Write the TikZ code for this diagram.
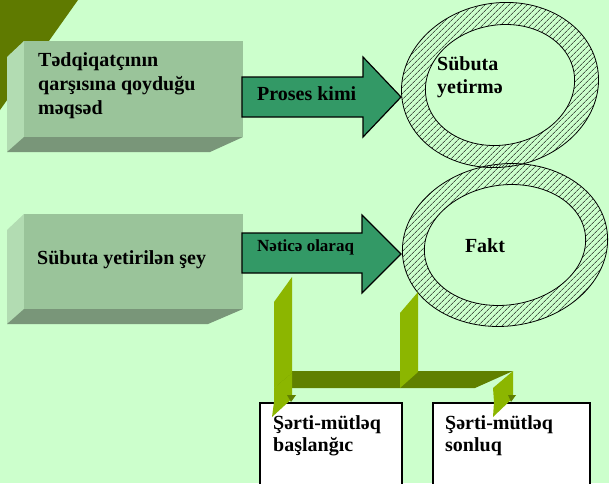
\documentclass[tikz,border=0pt]{standalone}
\usepackage{fontspec}
\setmainfont{Liberation Serif}
\usetikzlibrary{patterns.meta}
\definecolor{bg}{RGB}{204,255,204}
\definecolor{olive}{RGB}{95,122,0}
\definecolor{boxfront}{RGB}{154,196,154}
\definecolor{boxleft}{RGB}{178,220,178}
\definecolor{boxbottom}{RGB}{121,150,121}
\definecolor{arrowgreen}{RGB}{51,153,102}
\definecolor{lightbar}{RGB}{140,182,0}
\definecolor{darkbar}{RGB}{96,128,0}
\begin{document}
\begin{tikzpicture}[x=1pt,y=-1pt,
  txt/.style={font=\bfseries\fontsize{20}{24}\selectfont, inner sep=0pt, align=left, text=black},
  bigarrow/.style={fill=arrowgreen, draw=black, line width=1.2pt, line join=miter},
  ring/.style={pattern={Lines[angle=45,distance=4pt,line width=0.6pt]}, pattern color=black, even odd rule},
  ringline/.style={draw=black, line width=0.8pt},
  lbar/.style={fill=lightbar},
  dbar/.style={fill=darkbar},
  whitebox/.style={fill=white, draw=black, line width=1.2pt}]
\useasboundingbox (0,0) rectangle (609,483);
\fill[bg] (0,0) rectangle (609,483);
% dark triangle
\fill[olive] (0,0) -- (78,0) -- (0,110) -- cycle;
% box 1
\fill[boxleft] (7,57) -- (24,41) -- (24,137) -- (7,152) -- cycle;
\fill[boxbottom] (7,152) -- (24,137) -- (243,137) -- (210,152) -- cycle;
\fill[boxfront] (24,41) rectangle (243,137);
% box 2
\fill[boxleft] (7,230) -- (24,214) -- (24,309) -- (7,324) -- cycle;
\fill[boxbottom] (7,324) -- (24,309) -- (243,309) -- (208,324) -- cycle;
\fill[boxfront] (24,214) rectangle (243,309);
% big arrows
\draw[bigarrow] (242,77) -- (363,77) -- (363,57) -- (401,97) -- (363,137) -- (363,117) -- (242,117) -- cycle;
\draw[bigarrow] (242,233) -- (362,233) -- (362,215) -- (401,254) -- (362,293) -- (362,273) -- (242,273) -- cycle;
% ring 1
\begin{scope}[shift={(500,85)},rotate=10]
  \fill[ring] (0,0) ellipse [x radius=99, y radius=82] (0,0) ellipse [x radius=75, y radius=60];
  \draw[ringline] (0,0) ellipse [x radius=99, y radius=82];
  \draw[ringline] (0,0) ellipse [x radius=75, y radius=60];
\end{scope}
% ring 2
\begin{scope}[shift={(505,245)},rotate=8]
  \fill[ring] (0,0) ellipse [x radius=103, y radius=81] (0,0) ellipse [x radius=81, y radius=60];
  \draw[ringline] (0,0) ellipse [x radius=103, y radius=81];
  \draw[ringline] (0,0) ellipse [x radius=81, y radius=60];
\end{scope}
% bottom boxes
\draw[whitebox] (260,403) rectangle (402,492);
\draw[whitebox] (433,403) rectangle (590,492);
% green connector bars
\fill[dbar] (292,371) -- (513,371) -- (475,388) -- (274,388) -- cycle;
\fill[lbar] (274,302) -- (292,277) -- (292,373) -- (274,388) -- cycle;
\fill[lbar] (400,313) -- (418,292) -- (418,372) -- (400,388) -- cycle;
\fill[lbar] (274,388) -- (292,373) -- (292,395) -- (296,395) -- (272,417) -- (274,402) -- cycle;
\fill[dbar] (287,395) -- (296,395) -- (291,402) -- cycle;
\fill[lbar] (493,388) -- (513,371) -- (513,395) -- (516,395) -- (493,417) -- (494,402) -- cycle;
\fill[dbar] (508,395) -- (516,395) -- (511,402) -- cycle;
% texts
\node[txt, anchor=west] (t1) at (38,86) {Tədqiqatçının\\qarşısına qoyduğu\\məqsəd};
\node[txt, anchor=west] (t2) at (37,260) {Sübuta yetirilən şey};
\node[txt, anchor=west] (t3) at (257,94) {Proses kimi};
\node[txt, anchor=west, font=\bfseries\fontsize{17}{20}\selectfont] (t4) at (257,247) {Nəticə olaraq};
\node[txt, anchor=west, font=\bfseries\fontsize{20}{23}\selectfont] (t5) at (437,77) {Sübuta\\yetirmə};
\node[txt] (t6) at (485,246) {Fakt};
\node[txt, anchor=west, font=\bfseries\fontsize{20}{22}\selectfont] (t7) at (273,436) {Şərti-mütləq\\başlanğıc};
\node[txt, anchor=west, font=\bfseries\fontsize{20}{22}\selectfont] (t8) at (445,436) {Şərti-mütləq\\sonluq};
\end{tikzpicture}
\end{document}
